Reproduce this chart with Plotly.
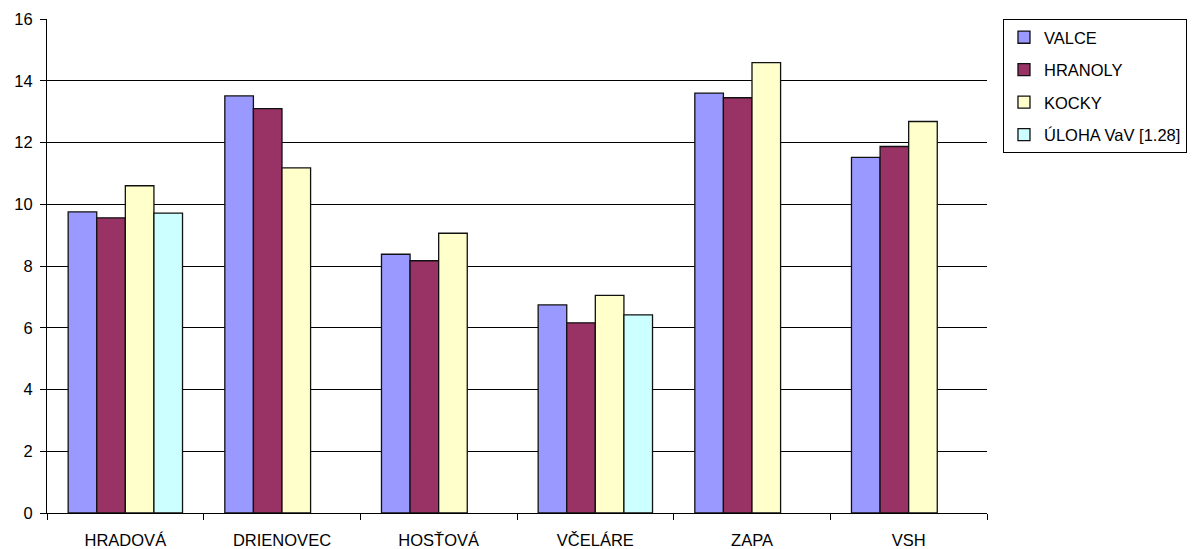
import plotly.graph_objects as go

categories = ["HRADOVÁ", "DRIENOVEC", "HOSŤOVÁ", "VČELÁRE", "ZAPA", "VSH"]
valce = [9.75, 13.51, 8.38, 6.74, 13.6, 11.52]
hranoly = [9.56, 13.1, 8.17, 6.16, 13.45, 11.87]
kocky = [10.6, 11.18, 9.06, 7.05, 14.59, 12.68]
uloha = [9.71, None, None, 6.42, None, None]
y_ticks = [0, 2, 4, 6, 8, 10, 12, 14, 16]

series = [
    ("VALCE", valce, "#9999FF"),
    ("HRANOLY", hranoly, "#993366"),
    ("KOCKY", kocky, "#FFFFCC"),
    ("ÚLOHA VaV [1.28]", uloha, "#CCFFFF"),
]

fig = go.Figure()
for name, vals, color in series:
    fig.add_trace(go.Bar(
        x=categories, y=vals, name=name, legendgroup=name,
        marker=dict(color=color, line=dict(color="#111111", width=1.3)),
    ))

font = dict(family="Liberation Sans, Arial, sans-serif", size=16.5, color="black")
fig.update_layout(
    width=1197, height=549,
    margin=dict(l=47, r=210, t=19, b=36, autoexpand=False),
    paper_bgcolor="white", plot_bgcolor="white",
    font=font,
    barmode="group", bargap=0.27, bargroupgap=0,
    showlegend=True,
    legend=dict(
        x=1.017, y=1.0, xanchor="left", yanchor="top",
        bordercolor="black", borderwidth=1,
        traceorder="grouped", tracegroupgap=8, itemwidth=30,
        font=font,
    ),
    xaxis=dict(
        type="category", showline=True, linecolor="black", linewidth=1,
        ticks="outside", tickson="boundaries", ticklen=6, tickcolor="black",
        showgrid=False, tickfont=font, ticklabelstandoff=12, automargin=False,
    ),
    yaxis=dict(
        range=[0, 16], tickvals=y_ticks, showline=True, linecolor="black", linewidth=1,
        ticks="outside", ticklen=6, tickcolor="black",
        showgrid=True, gridcolor="black", gridwidth=1,
        zeroline=False, tickfont=font, ticklabelstandoff=4, automargin=False,
    ),
)

fig.write_html("out.html")
